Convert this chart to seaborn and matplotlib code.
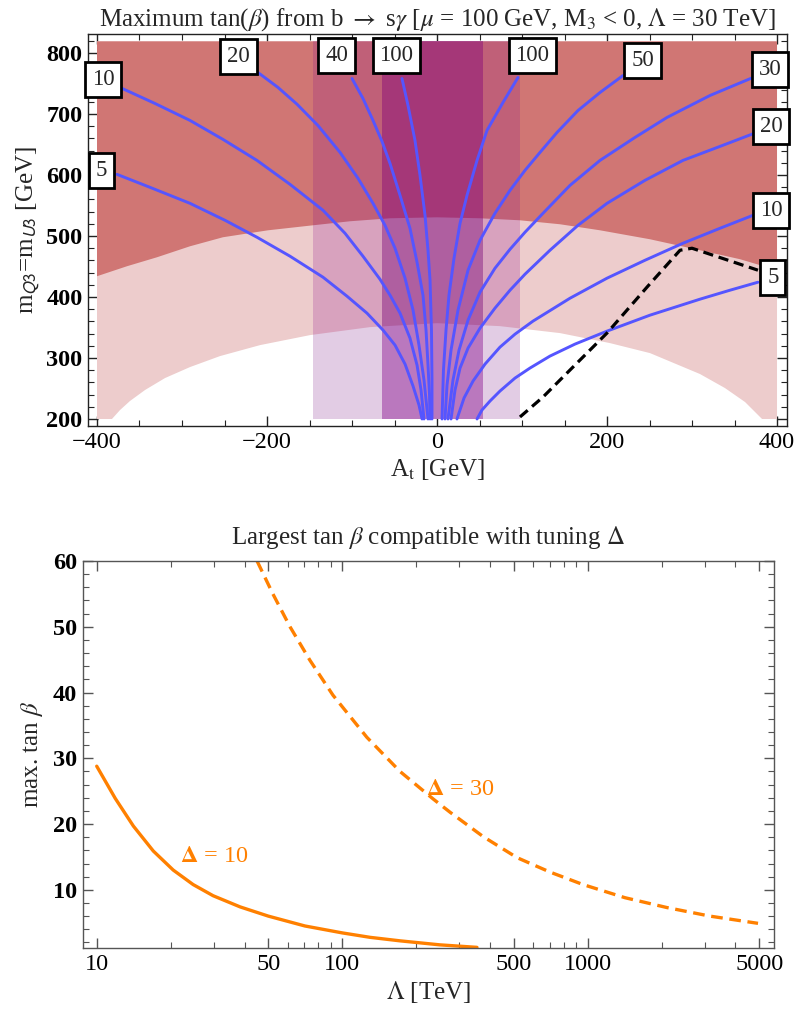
import numpy as np
import matplotlib
matplotlib.use("Agg")
import matplotlib.pyplot as plt
from matplotlib.patches import Polygon, Rectangle
from matplotlib.ticker import MultipleLocator, FixedLocator, NullFormatter, FixedFormatter
import seaborn as sns

# ---------------- top panel data ----------------
region_A = [-400, 400]
region_m = [200, 819]
upper_A = [-400, -364.7, -329.4, -290.6, -251.8, -198.8, -145.9, -102.4, -55.3, 0, 50.6, 97.6,
           144.7, 191.8, 250.6, 309.4, 356.5, 400]
upper_m = [434.0, 450.4, 465.1, 483.1, 497.9, 509.3, 517.5, 524.1, 529.0, 530.6, 529.0, 525.7,
           519.2, 509.3, 494.6, 476.6, 461.9, 443.9]
lower_A = [-382.4, -372.9, -361.2, -343.5, -320.0, -290.6, -255.3, -208.2, -149.4, -78.8, 0,
           74.1, 144.7, 203.5, 250.6, 309.4, 338.8, 362.4, 382.4]
lower_m = [200, 214.7, 229.5, 247.5, 267.1, 285.1, 303.1, 321.1, 337.5, 350.6, 357.1,
           352.2, 340.8, 324.4, 308.0, 273.7, 250.7, 227.8, 200]
wide_band = [-145.5, 97.6]
narrow_band = [-64.4, 53.8]

c5L_A = [-376.5, -337.6, -290.6, -249.4, -211.8, -172.9, -134.1, -105.9, -82.4, -63.5, -49.4, -37.6, -28.2, -21.2, -17.6]
c5L_m = [601.0, 579.7, 553.5, 525.7, 497.9, 466.8, 432.4, 401.3, 373.5, 345.7, 321.1, 290.0, 254.0, 222.9, 200]
c10L_A = [-372.9, -331.8, -290.6, -251.8, -211.8, -172.9, -134.1, -108.2, -87.1, -67.1, -55.3, -43.5, -31.8, -23.5, -18.8, -15.3]
c10L_m = [743.4, 717.2, 689.4, 658.3, 623.9, 584.6, 542.1, 504.4, 466.8, 429.1, 403.0, 373.5, 332.6, 288.4, 247.5, 200]
c20L_A = [-210.6, -187.1, -164.7, -140.0, -114.1, -92.9, -75.3, -61.2, -49.4, -37.6, -28.2, -21.2, -15.3, -10.6]
c20L_m = [767.9, 743.5, 716.0, 681.0, 637.0, 594.4, 553.5, 517.5, 479.9, 430.8, 378.4, 321.1, 263.8, 200]
c40L_A = [-100.0, -87.1, -75.3, -64.7, -55.3, -43.5, -31.8, -23.5, -16.5, -12.9, -10.6, -8.8, -8.2]
c40L_m = [758.1, 725.4, 689.4, 655.0, 619.0, 566.6, 512.6, 457.0, 403.0, 345.7, 288.4, 239.3, 200]
c100L_A = [-41.2, -34.1, -25.9, -20.0, -14.1, -10.6, -8.2, -6.5, -5.9, -5.9]
c100L_m = [758.1, 713.9, 656.6, 599.4, 533.9, 476.6, 427.5, 345.7, 263.8, 200]
c100R_A = [95.3, 77.6, 58.8, 47.1, 35.3, 27.1, 20.0, 14.1, 10.6, 7.6, 5.9]
c100R_m = [759.8, 718.8, 673.0, 623.9, 566.6, 520.8, 463.5, 403.0, 345.7, 280.2, 200]
c50_A = [218.8, 191.8, 165.9, 141.2, 121.2, 103.5, 85.9, 68.2, 50.6, 36.5, 24.7, 16.5, 11.8, 9.4]
c50_m = [763.0, 735.2, 705.7, 669.7, 637.0, 607.5, 574.8, 537.2, 493.0, 443.9, 378.4, 312.9, 255.6, 200]
c30_A = [371.8, 321.2, 270.6, 232.9, 191.8, 156.5, 124.7, 103.5, 85.9, 68.2, 50.6, 36.5, 25.9, 18.8, 12.9]
c30_m = [759.8, 730.3, 694.3, 661.5, 623.9, 583.0, 537.2, 506.1, 478.2, 447.1, 407.9, 362.0, 312.9, 263.8, 200]
c20R_A = [372.9, 332.9, 289.4, 244.7, 200.0, 165.9, 132.9, 103.5, 85.9, 68.2, 50.6, 36.5, 27.1, 21.2, 16.5]
c20R_m = [668.1, 646.8, 623.9, 591.2, 553.5, 517.5, 476.6, 437.3, 411.1, 381.7, 348.9, 316.2, 283.5, 247.5, 200]
c10R_A = [371.8, 332.9, 289.4, 244.7, 200.0, 156.5, 112.9, 91.8, 74.1, 56.5, 42.4, 31.8, 23.5]
c10R_m = [533.9, 512.6, 488.1, 460.2, 430.8, 398.0, 360.4, 339.1, 317.8, 290.0, 262.2, 234.4, 200]
c5R_A = [377.6, 344.7, 309.4, 250.6, 200.0, 162.4, 132.9, 109.4, 91.8, 74.1, 62.4, 52.9, 47.1]
c5R_m = [424.2, 411.1, 396.4, 370.2, 344.0, 322.8, 303.1, 283.5, 267.1, 245.8, 229.5, 214.7, 200]

contour_labels = ["5", "10", "20", "40", "100", "100", "50", "30", "20", "10", "5"]
label_A = [-395, -393, -233.5, -118, -47.6, 112.4, 241.8, 392, 393, 393, 395]
label_m = [607.5, 756, 794, 795.7, 795.7, 795.7, 787.6, 772.8, 679.5, 542, 431.6]

dash_A = [97.6, 124.7, 200, 247.1, 285.9, 300, 377.6]
dash_m = [203.3, 236, 340.9, 416.2, 476.6, 479.9, 443.9]

top_xticks = [-400, -200, 0, 200, 400]
top_xticklabels = ["\u2212400", "\u2212200", "0", "200", "400"]
top_yticks = [200, 300, 400, 500, 600, 700, 800]

# ---------------- bottom panel data ----------------
lam10 = [10, 11.9, 14.1, 17, 20.5, 24.7, 29.8, 38.4, 50, 70.5, 100, 130, 172, 250, 354]
tb10 = [28.8, 23.9, 19.7, 15.9, 13.0, 10.8, 9.1, 7.4, 6.0, 4.5, 3.45, 2.77, 2.24, 1.63, 1.25]
lam30 = [45.0, 52.2, 61.3, 73.9, 91.7, 126, 172, 235, 275, 375, 515, 702, 957, 1419, 2104, 3148, 4943]
tb30 = [60, 55.0, 50.0, 44.9, 39.6, 33.2, 28.0, 23.8, 21.8, 18.1, 14.9, 12.7, 10.8, 8.8, 7.3, 6.0, 4.9]
bot_xticks = [10, 50, 100, 500, 1000, 5000]
bot_xminor = [20, 30, 40, 60, 70, 80, 90, 200, 300, 400, 600, 700, 800, 900, 2000, 3000, 4000]
bot_yticks = [10, 20, 30, 40, 50, 60]
delta_labels = [r"$\mathbf{\Delta}$ = 10", r"$\mathbf{\Delta}$ = 30"]
delta_lam = [30.0, 302]
delta_tb = [15.0, 25.2]

# ---------------- styling ----------------
sns.set_theme(style="ticks")
plt.rcParams["font.family"] = ["Liberation Serif", "DejaVu Serif"]
plt.rcParams["mathtext.fontset"] = "stix"
plt.rcParams["axes.linewidth"] = 1.0

C_DARK = "#D07674"
C_LIGHT = "#EDCCCC"
W_DARK, W_LIGHT, W_WHITE = "#C06078", "#D8A2BE", "#E2CCE4"
N_DARK, N_LIGHT, N_WHITE = "#A53778", "#AF5FA0", "#BA78BE"
BLUE = "#5555FF"
ORANGE = "#FF8000"
TICK_FS = 17.5

fig = plt.figure(figsize=(7.97, 10.16), dpi=100)
ax1 = fig.add_axes([0.1104, 0.5807, 0.8771, 0.3858])
ax2 = fig.add_axes([0.1038, 0.0666, 0.8673, 0.3812])

# ---- regions ----
x0, x1 = region_A
y0, y1 = region_m
above_lower = [(x0, y0)] + list(zip(lower_A, lower_m)) + [(x1, y0), (x1, y1), (x0, y1)]
dark_poly_pts = list(zip(upper_A, upper_m)) + [(x1, y1), (x0, y1)]

ax1.add_patch(Polygon(above_lower, closed=True, fc=C_LIGHT, ec="none", zorder=1))
ax1.add_patch(Polygon(dark_poly_pts, closed=True, fc=C_DARK, ec="none", zorder=1.1))

for band, cw, cl, cd, z in [(wide_band, W_WHITE, W_LIGHT, W_DARK, 1.2),
                            (narrow_band, N_WHITE, N_LIGHT, N_DARK, 1.3)]:
    w = band[1] - band[0]
    r1 = Rectangle((band[0], y0), w, y1 - y0, fc=cw, ec="none", zorder=z)
    ax1.add_patch(r1)
    clip_a = Polygon(above_lower, closed=True, transform=ax1.transData)
    r2 = Rectangle((band[0], y0), w, y1 - y0, fc=cl, ec="none", zorder=z + 0.01)
    ax1.add_patch(r2)
    r2.set_clip_path(clip_a)
    clip_d = Polygon(dark_poly_pts, closed=True, transform=ax1.transData)
    r3 = Rectangle((band[0], y0), w, y1 - y0, fc=cd, ec="none", zorder=z + 0.02)
    ax1.add_patch(r3)
    r3.set_clip_path(clip_d)

contours = [(c5L_A, c5L_m), (c10L_A, c10L_m), (c20L_A, c20L_m), (c40L_A, c40L_m),
            (c100L_A, c100L_m), (c100R_A, c100R_m), (c50_A, c50_m), (c30_A, c30_m),
            (c20R_A, c20R_m), (c10R_A, c10R_m), (c5R_A, c5R_m)]
for xs, ys in contours:
    sns.lineplot(x=xs, y=ys, sort=False, estimator=None, color=BLUE, lw=2.1, ax=ax1, zorder=3)
for ln in ax1.lines:
    ln.set_solid_joinstyle("round")
    ln.set_solid_capstyle("round")

sns.lineplot(x=dash_A, y=dash_m, sort=False, estimator=None, color="black", lw=2.3, ax=ax1, zorder=3.5)
ax1.lines[-1].set_dashes([3.2, 1.8])

for t, xa, ym in zip(contour_labels, label_A, label_m):
    ax1.text(xa, ym, t, ha="center", va="center", fontsize=16.5, zorder=5, clip_on=False,
             bbox=dict(boxstyle="square,pad=0.3", fc="white", ec="black", lw=2.0))

ax1.set_xlim(-410.6, 411.8)
ax1.set_ylim(188.5, 831)
ax1.xaxis.set_major_locator(FixedLocator(top_xticks))
ax1.xaxis.set_major_formatter(FixedFormatter(top_xticklabels))
ax1.xaxis.set_minor_locator(MultipleLocator(50))
ax1.yaxis.set_major_locator(FixedLocator(top_yticks))
ax1.yaxis.set_major_formatter(FixedFormatter([str(v) for v in top_yticks]))
ax1.yaxis.set_minor_locator(MultipleLocator(20))
ax1.set_title(r"Maximum tan($\beta$) from b $\rightarrow$ s$\gamma$ [$\mu$ = 100 GeV, M$_3$ < 0, $\Lambda$ = 30 TeV]",
              fontsize=18, pad=6)
ax1.set_xlabel(r"A$_\mathrm{t}$ [GeV]", fontsize=18, labelpad=3)
ax1.set_ylabel(r"m$_{\mathsf{Q3}}$=m$_{\mathsf{U3}}$ [GeV]", fontsize=18, labelpad=2)

# ---- bottom panel ----
sns.lineplot(x=lam10, y=tb10, sort=False, estimator=None, color=ORANGE, lw=2.4, ax=ax2)
sns.lineplot(x=lam30, y=tb30, sort=False, estimator=None, color=ORANGE, lw=2.4, ax=ax2)
ax2.lines[-1].set_dashes([3.5, 2.0])
for ln in ax2.lines:
    ln.set_solid_joinstyle("round")
ax2.set_xscale("log")
ax2.set_xlim(8.77, 5740)
ax2.set_ylim(1.1, 60)
ax2.xaxis.set_major_locator(FixedLocator(bot_xticks))
ax2.xaxis.set_major_formatter(FixedFormatter([str(v) for v in bot_xticks]))
ax2.xaxis.set_minor_locator(FixedLocator(bot_xminor))
ax2.xaxis.set_minor_formatter(NullFormatter())
ax2.yaxis.set_major_locator(FixedLocator(bot_yticks))
ax2.yaxis.set_major_formatter(FixedFormatter([str(v) for v in bot_yticks]))
ax2.yaxis.set_minor_locator(MultipleLocator(2))
ax2.set_title(r"Largest tan $\beta$ compatible with tuning $\Delta$", fontsize=18, pad=12)
ax2.set_xlabel(r"$\Lambda$ [TeV]", fontsize=18, labelpad=3)
ax2.set_ylabel(r"max. tan $\beta$", fontsize=18, labelpad=6)
for t, xl, yl in zip(delta_labels, delta_lam, delta_tb):
    ax2.text(xl, yl, t, color=ORANGE, fontsize=17.5, ha="center", va="center")

for ax, spc in [(ax1, "#222222"), (ax2, "#555555")]:
    ax.tick_params(which="both", direction="in", top=True, right=True, colors=spc, labelcolor="black")
    ax.tick_params(which="major", length=7, width=1.0, labelsize=TICK_FS, pad=4)
    ax.tick_params(which="minor", length=4, width=0.8)
    for s in ax.spines.values():
        s.set_color(spc)
        s.set_linewidth(1.0)
    for lab in ax.get_yticklabels():
        lab.set_fontweight("bold")

fig.savefig("out.png", dpi=100)
